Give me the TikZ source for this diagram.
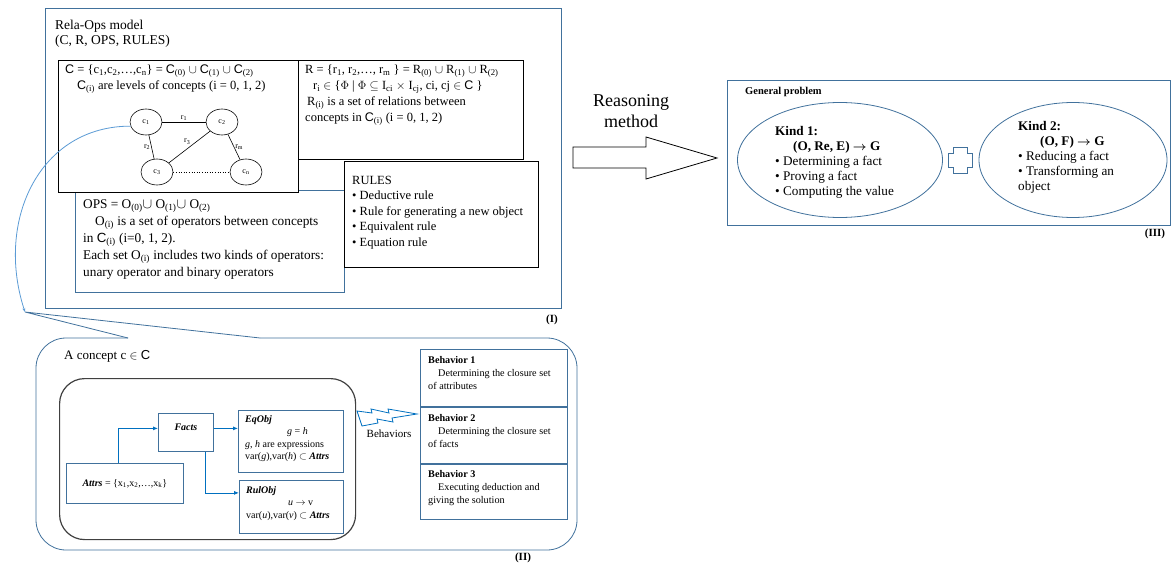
\documentclass[tikz,border=0pt]{standalone}
\usepackage{fontspec}
\setmainfont{Liberation Serif}
\setsansfont{Liberation Sans}
\usepackage{amsmath,amssymb}
\usepackage{xcolor}
\usetikzlibrary{shapes.geometric}
\usetikzlibrary{arrows.meta}

\definecolor{boxblue}{RGB}{65,113,156}
\definecolor{linkblue}{RGB}{0,112,192}
\definecolor{curveblue}{RGB}{91,155,213}
\definecolor{darkrim}{RGB}{64,64,64}

\newcommand{\sbs}[1]{\textsubscript{#1}}
\newcommand{\CC}{{\sffamily C}}
\newcommand{\fs}[2]{\fontsize{#1}{#2}\selectfont}

\tikzset{
  bluebox/.style={draw=boxblue, line width=0.8pt, inner sep=0pt, anchor=north west},
  blackbox/.style={draw=black, line width=0.9pt, fill=white, inner sep=0pt, anchor=north west},
  concept/.style={ellipse, draw, line width=0.6pt, minimum width=32pt, minimum height=26pt, inner sep=0pt, font=\fs{8}{9}},
  rel/.style={font=\fs{8}{9}, inner sep=1pt},
  txt/.style={anchor=north west, align=left, inner sep=0pt},
  kindell/.style={ellipse, draw=boxblue, line width=0.8pt, minimum height=115pt},
  link/.style={draw=linkblue, line width=0.8pt, -{Latex[length=5pt,width=4pt]}},
  tag/.style={font=\bfseries\fs{11}{13}, inner sep=0pt}
}

\begin{document}
\begin{tikzpicture}[x=1pt, y=-1pt]
        \useasboundingbox (0,0) rectangle (1173,567);

        % part (I)
        \node[bluebox, minimum width=516pt, minimum height=300pt] (modelbox) at (45,8) {};
        \node[txt, font=\fs{13.5}{15}] (modeltitle) at (55,20)
            {Rela-Ops model\\(C, R, OPS, RULES)};
        \node[bluebox, minimum width=269pt, minimum height=102pt] (opsbox) at (75,190) {};
        \node[blackbox, minimum width=240pt, minimum height=132pt] (cbox) at (58,60) {};
        \node[blackbox, minimum width=225pt, minimum height=99pt] (rbox) at (298,60) {};
        \node[blackbox, minimum width=194pt, minimum height=106pt] (rulesbox) at (344,161) {};

        \node[txt, font=\fs{12.5}{16}] (ctext) at ([shift={(7,5)}]cbox.north west)
            {\CC{} = \{c\sbs{1},c\sbs{2},\ldots,c\sbs{n}\} = \CC\sbs{(0)} $\cup$ \CC\sbs{(1)} $\cup$ \CC\sbs{(2)}\\
             \hspace*{12pt}\CC\sbs{(i)} are levels of concepts (i = 0, 1, 2)};
        \node[txt, font=\fs{12.5}{16}] (rtext) at ([shift={(7,5)}]rbox.north west)
            {R = \{r\sbs{1}, r\sbs{2},\ldots, r\sbs{m} \} = R\sbs{(0)} $\cup$ R\sbs{(1)} $\cup$ R\sbs{(2)}\\
             \hspace*{8pt}r\sbs{i} $\in$ \{$\Phi$ | $\Phi \subseteq$ I\sbs{ci} $\times$ I\sbs{cj}, ci, cj $\in$ \CC{} \}\\
             \hspace*{2pt}R\sbs{(i)} is a set of relations between\\
             concepts in \CC\sbs{(i)} (i = 0, 1, 2)};
        \node[txt, font=\fs{13.3}{17}] (opstext) at ([shift={(8,9)}]opsbox.north west)
            {OPS = O\sbs{(0)}$\cup$ O\sbs{(1)}$\cup$ O\sbs{(2)}\\
             \hspace*{12pt}O\sbs{(i)} is a set of operators between concepts\\
             in \CC\sbs{(i)} (i=0, 1, 2).\\
             Each set O\sbs{(i)} includes two kinds of operators:\\
             unary operator and binary operators};
        \node[txt, font=\fs{12.5}{15.5}] (rulestext) at ([shift={(8,15)}]rulesbox.north west)
            {RULES\\
             \textbullet{} Deductive rule\\
             \textbullet{} Rule for generating a new object\\
             \textbullet{} Equivalent rule\\
             \textbullet{} Equation rule};

        \node[concept] (c1) at (146,122) {c\sbs{1}};
        \node[concept] (c2) at (222,122) {c\sbs{2}};
        \node[concept] (c3) at (157,172) {c\sbs{3}};
        \node[concept] (cn) at (246,172) {c\sbs{n}};
        \draw[line width=0.6pt] (c1) -- (c2) node[rel, midway, above] {r\sbs{1}};
        \draw[line width=0.6pt] (c1) -- (c3) node[rel, midway, left] {r\sbs{2}};
        \draw[line width=0.6pt] (c3) -- (c2) node[rel, pos=0.55, above left] {r\sbs{3}};
        \draw[line width=0.6pt] (c2) -- (cn) node[rel, midway, right] {r\sbs{m}};
        \draw[dotted, line width=0.6pt] (c3) -- (cn);

        \node[tag] (tagone) at (552,320) {(I)};

        % reasoning arrow
        \node[font=\fs{18}{21}, align=center] (reasoning) at (631,111) {Reasoning\\method};
        \draw[line width=0.8pt, fill=white] (573,147) -- (646,147) -- (646,137) -- (717,158)
            -- (646,179) -- (646,168) -- (573,168) -- cycle;

        % part (III)
        \node[bluebox, minimum width=443pt, minimum height=145pt] (probbox) at (727,80) {};
        \node[txt, font=\bfseries\fs{10.5}{12}] (probtitle) at ([shift={(18,7)}]probbox.north west) {General problem};
        \node[kindell, minimum width=205pt] (kindone) at (840,160) {};
        \node[kindell, minimum width=188pt] (kindtwo) at (1073,160) {};
        \node[txt, font=\fs{13.2}{15}] (kindonetext) at (775,126)
            {\textbf{Kind 1:}\\
             \hspace*{18pt}\textbf{(O, Re, E) $\boldsymbol{\to}$ G}\\
             \textbullet{} Determining a fact\\
             \textbullet{} Proving a fact\\
             \textbullet{} Computing the value};
        \node[txt, font=\fs{13.2}{15}] (kindtwotext) at (1018,121)
            {\textbf{Kind 2:}\\
             \hspace*{22pt}\textbf{(O, F) $\boldsymbol{\to}$ G}\\
             \textbullet{} Reducing a fact\\
             \textbullet{} Transforming an\\
             object};
        \draw[boxblue, line width=0.8pt, fill=white] (953,147) -- (967,147) -- (967,153) -- (972,153)
            -- (972,167) -- (967,167) -- (967,173) -- (953,173) -- (953,167) -- (948,167)
            -- (948,153) -- (953,153) -- cycle;
        \node[tag] (tagthree) at (1155,234) {(III)};

        % part (II)
        \coordinate (tip) at (25,312);
        \draw[boxblue, line width=0.8pt, rounded corners=30pt] (260,338) -- (577,338) -- (577,550)
            -- (36,550) -- (36,338) -- (128,338);
        \draw[boxblue, line width=0.8pt] (128,338) -- (tip) -- (260,338);
        \draw[curveblue, line width=0.8pt, -{Stealth[length=4pt,width=3pt]}] (c1.195)
            .. controls (40,126) and (-5,220) .. (tip);
        \node[txt, font=\fs{13}{15}] (concepttitle) at (64,350) {A concept c $\in$ \CC};
        \node[draw=darkrim, line width=1.2pt, rounded corners=25pt, minimum width=296pt,
            minimum height=161pt, anchor=north west] (core) at (59,378) {};

        \node[bluebox, minimum width=55pt, minimum height=38pt] (facts) at (158,413) {};
        \node[font=\bfseries\itshape\fs{10}{12}] (factslabel) at ([yshift=5pt]facts.center) {Facts};
        \node[bluebox, minimum width=105pt, minimum height=62pt] (eqobj) at (238,410) {};
        \node[txt, font=\fs{10}{12.5}] (eqtext) at ([shift={(7,5)}]eqobj.north west)
            {\textbf{\textit{EqObj}}\\
             \hspace*{42pt}\textit{g} = \textit{h}\\
             \textit{g}, \textit{h} are expressions\\
             var(\textit{g}),var(\textit{h}) $\subset$ \textbf{\textit{Attrs}}};
        \node[bluebox, minimum width=104pt, minimum height=53pt] (rulobj) at (239,480) {};
        \node[txt, font=\fs{10}{12.5}] (rultext) at ([shift={(7,6)}]rulobj.north west)
            {\textbf{\textit{RulObj}}\\
             \hspace*{42pt}\textit{u} $\to$ v\\
             var(\textit{u}),var(\textit{v}) $\subset$ \textbf{\textit{Attrs}}};
        \node[bluebox, minimum width=117pt, minimum height=40pt, font=\fs{10}{12}] (attrs) at (66,463)
            {\textbf{\textit{Attrs}} = \{x\sbs{1},x\sbs{2},\ldots,x\sbs{k}\}};

        \draw[link] ([xshift=-6.5pt]attrs.north) |- ([yshift=4pt]facts.west);
        \draw[link] ([yshift=4pt]facts.east) -- ([yshift=4pt]facts.east -| eqobj.west);
        \draw[link] ([xshift=19.5pt]facts.south) |- ([yshift=14pt]rulobj.west);

        \node[bluebox, minimum width=147pt, minimum height=57pt] (beh1) at (420,349) {};
        \node[bluebox, minimum width=147pt, minimum height=56pt] (beh2) at (beh1.south west) {};
        \node[bluebox, minimum width=147pt, minimum height=55pt] (beh3) at (beh2.south west) {};
        \node[txt, font=\fs{10.2}{13}] (beh1text) at ([shift={(8,7)}]beh1.north west)
            {\textbf{Behavior 1}\\ \hspace*{10pt}Determining the closure set\\of attributes};
        \node[txt, font=\fs{10.2}{13}] (beh2text) at ([shift={(8,7)}]beh2.north west)
            {\textbf{Behavior 2}\\ \hspace*{10pt}Determining the closure set\\of facts};
        \node[txt, font=\fs{10.2}{13}] (beh3text) at ([shift={(8,7)}]beh3.north west)
            {\textbf{Behavior 3}\\ \hspace*{10pt}Executing deduction and\\giving the solution};
        \draw[linkblue, line width=0.8pt, fill=white] (357,411) -- (372,413) -- (371,409) -- (389,413)
            -- (388,409) -- (417,414) -- (392,418) -- (393,422) -- (377,419) -- (378,423)
            -- (362,426) -- cycle;
        \node[font=\fs{11}{13}] (behlabel) at (389,434) {Behaviors};

        \node[tag] (tagtwo) at (523,558) {(II)};
\end{tikzpicture}
\end{document}
